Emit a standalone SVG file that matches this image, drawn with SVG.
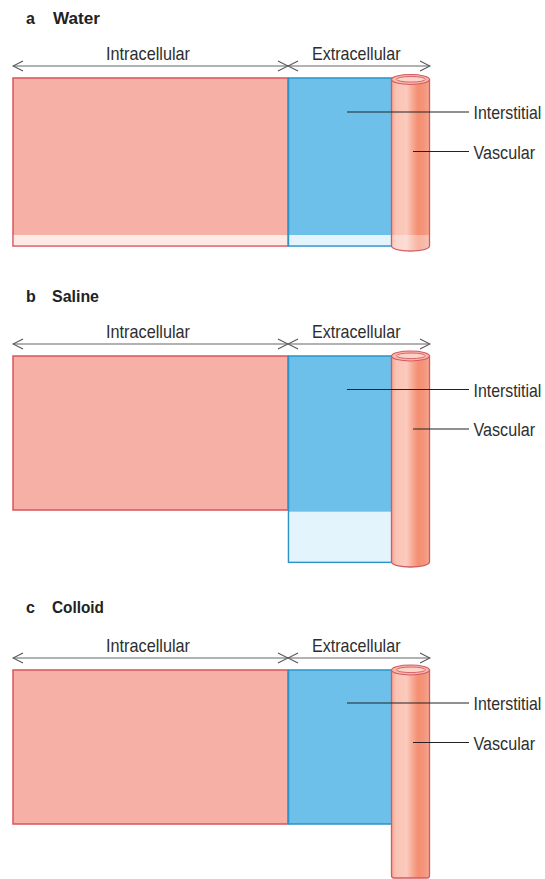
<svg xmlns="http://www.w3.org/2000/svg" width="545" height="879" viewBox="0 0 545 879">
<defs>
<style>
.t{font-family:"Liberation Sans",Arial,sans-serif;font-size:19px;fill:#2e2e2e}
.h{font-family:"Liberation Sans",Arial,sans-serif;font-size:16px;font-weight:bold;fill:#222}
.ic{fill:#f7b0a6;stroke:#d9545c;stroke-width:1.5}
.icl{fill:#fde9e6}
.ec{fill:#6dc0ea;stroke:#2b93c8;stroke-width:1.5}
.ecl{fill:#e3f4fc}
.dim{stroke:#666;stroke-width:1.2;fill:none}
.lead{stroke:#222;stroke-width:1.2;fill:none}
.vb{fill:url(#vg);stroke:#d45a62;stroke-width:1.3}
.vt{fill:#f8b9ab;stroke:#d45a62;stroke-width:1.2}
.vi{fill:#fbd3c9;stroke:#d45a62;stroke-width:0.9}
</style>
<linearGradient id="vg" x1="0" y1="0" x2="1" y2="0">
<stop offset="0" stop-color="#f3a491"/>
<stop offset="0.12" stop-color="#f9c3b5"/>
<stop offset="0.4" stop-color="#fbcabd"/>
<stop offset="0.55" stop-color="#f7aa94"/>
<stop offset="0.7" stop-color="#f48e72"/>
<stop offset="0.85" stop-color="#f4957b"/>
<stop offset="1" stop-color="#f5a792"/>
</linearGradient>
<marker id="ah" viewBox="0 0 12 12" refX="11" refY="6" markerWidth="12" markerHeight="12" markerUnits="userSpaceOnUse" orient="auto-start-reverse">
<path d="M1,1 L11,6 L1,11" fill="none" stroke="#555" stroke-width="1.1"/>
</marker>
</defs>

<!-- Panel a -->
<g id="panel-a">
<text class="h" x="26" y="24">a</text>
<text class="h" x="53" y="24" textLength="47" lengthAdjust="spacingAndGlyphs">Water</text>
<g id="a-intracellular">
<rect class="ic" x="13" y="78" width="275" height="168"/>
<rect class="icl" x="13.75" y="235" width="273.5" height="10.25"/>
</g>
<g id="a-interstitial">
<rect class="ec" x="288.5" y="78" width="104" height="168"/>
<rect class="ecl" x="289.25" y="235" width="102.5" height="10.25"/>
</g>
<g id="a-vascular">
<path class="vb" d="M391.5,79.5 L391.5,246 A19,5 0 0 0 429.5,246 L429.5,79.5 Z"/>
<path d="M392.2,235 L392.2,246 A18.3,4.6 0 0 0 428.8,246 L428.8,235 Z" fill="#fff" opacity="0.35"/>
<ellipse class="vt" cx="410.5" cy="79.5" rx="19" ry="5"/>
<ellipse class="vi" cx="411" cy="79.3" rx="14.5" ry="2.8"/>
</g>
</g>

<!-- Panel b -->
<g id="panel-b">
<text class="h" x="26" y="302">b</text>
<text class="h" x="52" y="302" textLength="47" lengthAdjust="spacingAndGlyphs">Saline</text>
<g id="b-intracellular">
<rect class="ic" x="13" y="356" width="275" height="154"/>
</g>
<g id="b-interstitial">
<rect class="ec" x="288.5" y="356" width="104" height="206.3"/>
<rect class="ecl" x="289.25" y="511.7" width="102.5" height="49.85"/>
</g>
<g id="b-vascular">
<path class="vb" d="M391.5,356 L391.5,562 A19,5 0 0 0 429.5,562 L429.5,356 Z"/>
<ellipse class="vt" cx="410.5" cy="356" rx="19" ry="5"/>
<ellipse class="vi" cx="411" cy="355.8" rx="14.5" ry="2.8"/>
</g>
</g>

<!-- Panel c -->
<g id="panel-c">
<text class="h" x="26" y="613">c</text>
<text class="h" x="52" y="613" textLength="52" lengthAdjust="spacingAndGlyphs">Colloid</text>
<g id="c-intracellular">
<rect class="ic" x="13" y="670" width="275" height="154"/>
</g>
<g id="c-interstitial">
<rect class="ec" x="288.5" y="670" width="104" height="154"/>
</g>
<g id="c-vascular">
<path class="vb" d="M391.5,670 L391.5,875.5 Q391.5,878 394,878 L427,878 Q429.5,878 429.5,875.5 L429.5,670 Z"/>
<ellipse class="vt" cx="410.5" cy="670" rx="19" ry="5"/>
<ellipse class="vi" cx="411" cy="669.8" rx="14.5" ry="2.8"/>
</g>
</g>

<!-- Connectors: dimension arrows and leader lines -->
<g id="connectors">
<line class="dim" x1="13" y1="66" x2="288" y2="66" marker-start="url(#ah)" marker-end="url(#ah)"/>
<line class="dim" x1="288" y1="66" x2="430" y2="66" marker-start="url(#ah)" marker-end="url(#ah)"/>
<line class="lead" x1="347" y1="112" x2="469" y2="112"/>
<line class="lead" x1="413" y1="151.5" x2="469" y2="151.5"/>

<line class="dim" x1="13" y1="344" x2="288" y2="344" marker-start="url(#ah)" marker-end="url(#ah)"/>
<line class="dim" x1="288" y1="344" x2="430" y2="344" marker-start="url(#ah)" marker-end="url(#ah)"/>
<line class="lead" x1="347" y1="389.5" x2="469" y2="389.5"/>
<line class="lead" x1="413" y1="429" x2="469" y2="429"/>

<line class="dim" x1="13" y1="658" x2="288" y2="658" marker-start="url(#ah)" marker-end="url(#ah)"/>
<line class="dim" x1="288" y1="658" x2="430" y2="658" marker-start="url(#ah)" marker-end="url(#ah)"/>
<line class="lead" x1="347" y1="703" x2="469" y2="703"/>
<line class="lead" x1="413" y1="742.5" x2="469" y2="742.5"/>
</g>

<!-- Labels -->
<g id="labels">
<text class="t" x="106" y="60" textLength="84" lengthAdjust="spacingAndGlyphs">Intracellular</text>
<text class="t" x="312" y="60" textLength="88.5" lengthAdjust="spacingAndGlyphs">Extracellular</text>
<text class="t" transform="translate(473.5,119) scale(0.835,1)">Interstitial</text>
<text class="t" transform="translate(473.5,158.5) scale(0.85,1)">Vascular</text>

<text class="t" x="106" y="338" textLength="84" lengthAdjust="spacingAndGlyphs">Intracellular</text>
<text class="t" x="312" y="338" textLength="88.5" lengthAdjust="spacingAndGlyphs">Extracellular</text>
<text class="t" transform="translate(473.5,396.5) scale(0.835,1)">Interstitial</text>
<text class="t" transform="translate(473.5,436) scale(0.85,1)">Vascular</text>

<text class="t" x="106" y="652" textLength="84" lengthAdjust="spacingAndGlyphs">Intracellular</text>
<text class="t" x="312" y="652" textLength="88.5" lengthAdjust="spacingAndGlyphs">Extracellular</text>
<text class="t" transform="translate(473.5,710) scale(0.835,1)">Interstitial</text>
<text class="t" transform="translate(473.5,749.5) scale(0.85,1)">Vascular</text>
</g>
</svg>
